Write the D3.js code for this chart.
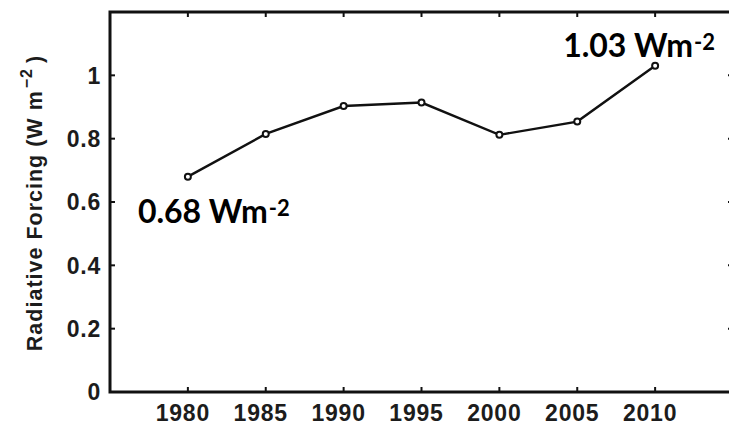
<!DOCTYPE html>
<html>
<head>
<meta charset="utf-8">
<script src="https://cdn.jsdelivr.net/npm/d3@7"></script>
<style>
  html, body { margin: 0; padding: 0; background: #fff; }
  svg { display: block; }
  .tick-label { font-family: "Liberation Sans", Arial, sans-serif; font-weight: bold; font-size: 23px; letter-spacing: 0.8px; fill: #1c1c1c; }
  .axis-title { font-family: "Liberation Sans", Arial, sans-serif; font-weight: bold; font-size: 21.5px; letter-spacing: 1px; fill: #1c1c1c; }
  .note { font-family: Lato, "Open Sans", sans-serif; font-weight: bold; font-size: 32px; fill: #000; }
</style>
</head>
<body>
<svg id="chart" width="729" height="425"></svg>
<script>
// Radiative forcing by year
const years = [1980, 1985, 1990, 1995, 2000, 2005, 2010];
const forcing = [0.68, 0.815, 0.903, 0.914, 0.812, 0.854, 1.03];
const xTicks = [1980, 1985, 1990, 1995, 2000, 2005, 2010];
const yTicks = [0, 0.2, 0.4, 0.6, 0.8, 1];
const yTickLabels = ["0", "0.2", "0.4", "0.6", "0.8", "1"];

const svg = d3.select("#chart");
const plotLeft = 110, plotRight = 733, plotTop = 12, plotBottom = 392;

const x = d3.scaleLinear().domain([1975, 2015]).range([plotLeft, plotRight]);
const y = d3.scaleLinear().domain([0, 1.2]).range([plotBottom, plotTop]);

// inward ticks on all four sides
const tickLen = 5;
const ink = "#111";
const ticks = svg.append("g").attr("stroke", ink).attr("stroke-width", 2);
xTicks.forEach(t => {
  ticks.append("line").attr("x1", x(t)).attr("x2", x(t)).attr("y1", plotBottom).attr("y2", plotBottom - tickLen);
  ticks.append("line").attr("x1", x(t)).attr("x2", x(t)).attr("y1", plotTop).attr("y2", plotTop + tickLen);
});
yTicks.forEach(t => {
  ticks.append("line").attr("x1", plotLeft).attr("x2", plotLeft + tickLen).attr("y1", y(t)).attr("y2", y(t));
  ticks.append("line").attr("x1", plotRight).attr("x2", plotRight - tickLen).attr("y1", y(t)).attr("y2", y(t));
});

// frame
svg.append("rect")
  .attr("x", plotLeft).attr("y", plotTop)
  .attr("width", plotRight - plotLeft).attr("height", plotBottom - plotTop)
  .attr("fill", "none").attr("stroke", ink).attr("stroke-width", 3);

// tick labels
svg.append("g").selectAll("text").data(xTicks).join("text")
  .attr("class", "tick-label")
  .attr("x", d => x(d) - 5).attr("y", plotBottom + 29)
  .attr("text-anchor", "middle")
  .text(d => d);

svg.append("g").selectAll("text").data(yTicks).join("text")
  .attr("class", "tick-label")
  .attr("x", plotLeft - 9).attr("y", d => y(d))
  .attr("dy", "0.36em")
  .attr("text-anchor", "end")
  .text((d, i) => yTickLabels[i]);

// y axis title
const yTitle = svg.append("text")
  .attr("class", "axis-title")
  .attr("transform", `translate(42, ${(plotTop + plotBottom) / 2 + 1}) rotate(-90)`)
  .attr("text-anchor", "middle");
yTitle.append("tspan").text("Radiative Forcing (W m");
yTitle.append("tspan").attr("dy", -10).attr("dx", 2).style("font-size", "16px").text("\u22122");
yTitle.append("tspan").attr("dy", 10).attr("dx", 5).text(")");

// series line and markers
const line = d3.line().x((d, i) => x(years[i])).y(d => y(d));
svg.append("path")
  .datum(forcing)
  .attr("d", line)
  .attr("fill", "none")
  .attr("stroke", "#111")
  .attr("stroke-width", 2.4);

svg.append("g").selectAll("circle").data(forcing).join("circle")
  .attr("cx", (d, i) => x(years[i]))
  .attr("cy", d => y(d))
  .attr("r", 3)
  .attr("fill", "#fff")
  .attr("stroke", "#111")
  .attr("stroke-width", 2);

// value annotations at the first and last points
function note(px, py, value) {
  const t = svg.append("text").attr("class", "note").attr("x", px).attr("y", py);
  t.append("tspan").text(value.toFixed(2) + " Wm");
  t.append("tspan").attr("dy", -7).attr("dx", 1).style("font-size", "22px").text("-2");
}
const first = 0, last = forcing.length - 1;
note(x(years[first]) - 50, y(forcing[first]) + 46, forcing[first]);
note(x(years[last]) - 92, y(forcing[last]) - 9, forcing[last]);
</script>
</body>
</html>
